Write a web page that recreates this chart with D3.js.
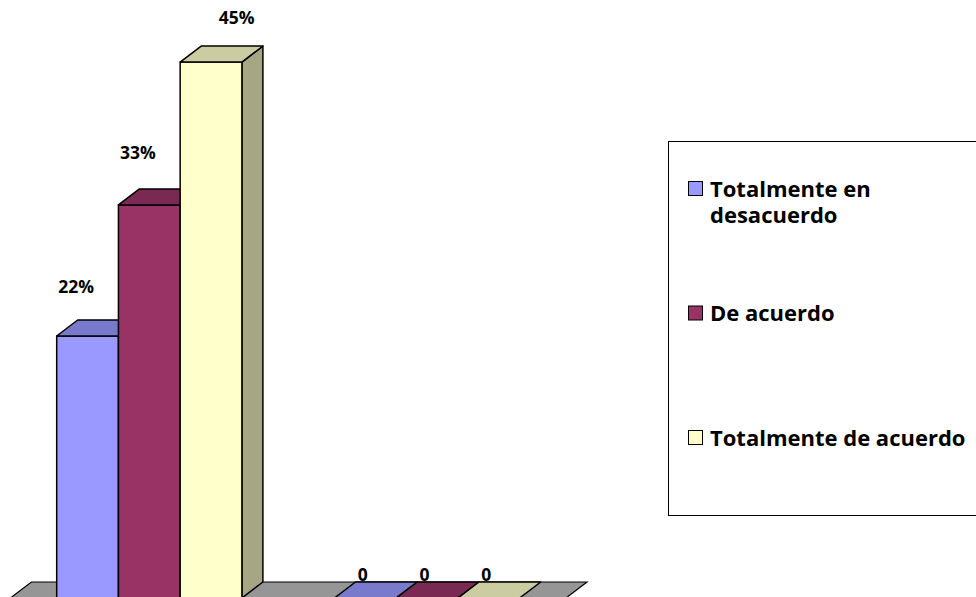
<!DOCTYPE html>
<html>
<head>
<meta charset="utf-8">
<script src="https://cdn.jsdelivr.net/npm/d3@7"></script>
<style>
  body { margin: 0; background: #fff; }
  svg { display: block; font-family: "Open Sans", Lato, sans-serif; font-weight: bold; }
</style>
</head>
<body>
<div id="chart"></div>
<script>
// data
const categories = ["1", "2"];
const seriesNames = ["Totalmente en desacuerdo", "De acuerdo", "Totalmente de acuerdo"];
const cat1Values = [0.22, 0.33, 0.45];
const cat2Values = [0, 0, 0];
const yDomain = [0, 0.5];

const w = 976;
const h = 597;
const frontColors = ["#9999FF", "#993366", "#FFFFCC"];
const topColors = ["#7A7ACC", "#7A2952", "#CCCCA3"];
const sideColors = ["#6B6BB3", "#6B2447", "#A6A685"];
const depthX = 21;
const depthY = 16;
const baseY = 598;

const table = categories.map((c, i) => ({
  cat: c,
  values: i === 0 ? cat1Values : cat2Values,
}));

const svg = d3.select("#chart").append("svg").attr("width", w).attr("height", h);

const xScale = d3
  .scaleBand()
  .domain(categories)
  .range([10.4, 566])
  .paddingInner(1 / 3)
  .paddingOuter(1 / 6);
const xSeries = d3
  .scaleBand()
  .domain(d3.range(seriesNames.length))
  .range([0, xScale.bandwidth()]);
const yScale = d3.scaleLinear().domain(yDomain).range([baseY, 2.5]);

// floor
const r = xScale.range();
svg
  .append("polygon")
  .attr("points", [
    [r[0], baseY],
    [r[0] + depthX, baseY - depthY],
    [r[1] + depthX, baseY - depthY],
    [r[1], baseY],
  ].join(" "))
  .attr("fill", "#969696")
  .attr("stroke", "#000")
  .attr("stroke-width", 1.2);

// bars
table.forEach((row) => {
  row.values.forEach((v, i) => {
    const x0 = xScale(row.cat) + xSeries(i);
    const bw = xSeries.bandwidth();
    const yt = yScale(v);
    const g = svg.append("g").attr("class", "bar");
    if (v > 0) {
      g.append("polygon")
        .attr("points", [
          [x0 + bw, yt],
          [x0 + bw + depthX, yt - depthY],
          [x0 + bw + depthX, baseY - depthY],
          [x0 + bw, baseY],
        ].join(" "))
        .attr("fill", sideColors[i]);
      g.append("rect")
        .attr("x", x0)
        .attr("y", yt)
        .attr("width", bw)
        .attr("height", baseY - yt)
        .attr("fill", frontColors[i]);
    }
    g.append("polygon")
      .attr("points", [
        [x0, yt],
        [x0 + depthX, yt - depthY],
        [x0 + bw + depthX, yt - depthY],
        [x0 + bw, yt],
      ].join(" "))
      .attr("fill", topColors[i]);
    g.selectAll("*")
      .attr("stroke", "#000")
      .attr("stroke-width", 1.5)
      .attr("stroke-linejoin", "round");
  });
});

// value labels
const labelNudge = [
  [[-11.5, -43], [-11.5, -46], [25.5, -38]],
  [[-2.5, -17], [-2.5, -17], [-2.5, -17]],
];
table.forEach((row, ci) => {
  row.values.forEach((v, i) => {
    const cx = xScale(row.cat) + xSeries(i) + xSeries.bandwidth() / 2;
    svg
      .append("text")
      .attr("x", cx + labelNudge[ci][i][0])
      .attr("y", yScale(v) + labelNudge[ci][i][1])
      .attr("text-anchor", "middle")
      .attr("font-size", 17.5)
      .text(v === 0 ? "0" : d3.format(".0%")(v));
  });
});

// legend
const legend = svg.append("g").attr("id", "legend");
legend
  .append("rect")
  .attr("x", 668.5)
  .attr("y", 141.5)
  .attr("width", 330)
  .attr("height", 374)
  .attr("fill", "#fff")
  .attr("stroke", "#000");

seriesNames.forEach((name, i) => {
  const by = 196.5 + i * 124.5;
  legend
    .append("rect")
    .attr("x", 688.5)
    .attr("y", by - 15)
    .attr("width", 14)
    .attr("height", 14)
    .attr("fill", frontColors[i])
    .attr("stroke", "#000");
  const t = legend
    .append("text")
    .attr("x", 710)
    .attr("y", by)
    .attr("font-size", 22);
  // wrap words into lines that fit the box
  const words = name.split(" ");
  let line = [];
  let tspan = t.append("tspan").attr("x", 710).attr("dy", 0);
  words.forEach((word) => {
    line.push(word);
    tspan.text(line.join(" "));
    if (tspan.node().getComputedTextLength() > 262 && line.length > 1) {
      line.pop();
      tspan.text(line.join(" "));
      line = [word];
      tspan = t.append("tspan").attr("x", 710).attr("dy", 26).text(word);
    }
  });
});
</script>
</body>
</html>
